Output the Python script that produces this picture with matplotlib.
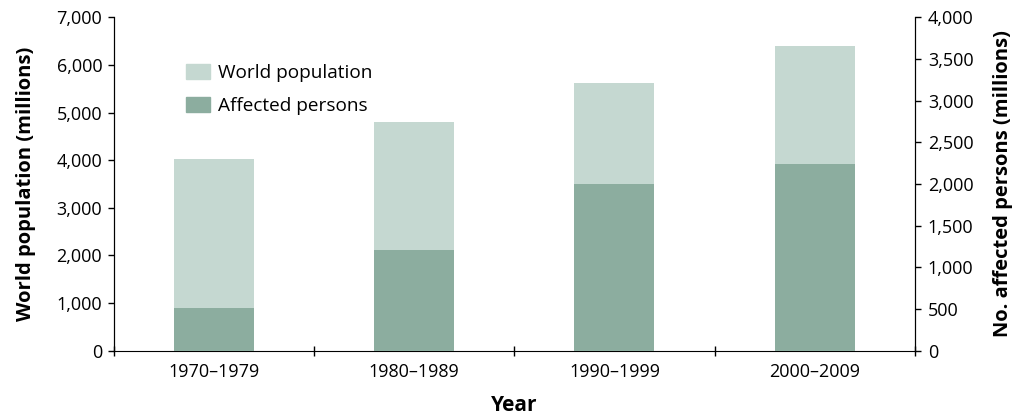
import matplotlib.pyplot as plt
from matplotlib.patches import Patch

plt.rcParams["font.family"] = ["Open Sans", "DejaVu Sans"]

decades = ["1970\u20131979", "1980\u20131989", "1990\u20131999", "2000\u20132009"]
world_pop = [4030, 4800, 5625, 6395]        # millions, left axis
affected = [512, 1212, 2004, 2236]          # millions, right axis

light = "#c5d8d1"
dark = "#8cad9f"

fig = plt.figure(figsize=(10.26, 4.15), dpi=100)
ax = fig.add_axes([0.1111, 0.1549, 0.7804, 0.8034])
ax2 = ax.twinx()

x = list(range(len(decades)))
ax.bar(x, world_pop, width=0.4, color=light, zorder=1)
ax2.bar(x, affected, width=0.4, color=dark, zorder=2)

ax.set_xlim(-0.5, 3.5)
ax.set_ylim(0, 7000)
ax2.set_ylim(0, 4000)
ax.set_yticks(range(0, 7001, 1000))
ax2.set_yticks(range(0, 4001, 500))
ax.set_yticklabels([f"{v:,}" for v in range(0, 7001, 1000)])
ax2.set_yticklabels([f"{v:,}" for v in range(0, 4001, 500)])

# category labels sit between the boundary ticks
ax.set_xticks([-0.5, 0.5, 1.5, 2.5, 3.5])
ax.set_xticklabels([])
ax.set_xticks(x, minor=True)
ax.set_xticklabels(decades, minor=True)
ax.tick_params(axis="x", which="major", direction="inout", length=7, width=1)
ax.tick_params(axis="x", which="minor", length=0, labelsize=13, pad=9)
ax.tick_params(axis="y", direction="out", length=4.5, width=1, labelsize=13, pad=4)
ax2.tick_params(axis="y", direction="out", length=4.5, width=1, labelsize=13, pad=5)

for a in (ax, ax2):
    a.spines["top"].set_visible(False)
ax2.spines["bottom"].set_visible(False)

ax.set_ylabel("World population (millions)", fontsize=14.5, fontweight="bold", labelpad=15)
ax2.set_ylabel("No. affected persons (millions)", fontsize=14.5, fontweight="bold", labelpad=14)
ax.set_xlabel("Year", fontsize=15, fontweight="bold", labelpad=10)

handles = [Patch(color=light, label="World population"),
           Patch(color=dark, label="Affected persons")]
ax2.legend(handles=handles, loc="upper left", bbox_to_anchor=(0.1813, 0.846),
           bbox_transform=fig.transFigure, borderaxespad=0, borderpad=0,
           frameon=False, fontsize=13.7, handlelength=1.26, handleheight=0.84,
           handletextpad=0.42, labelspacing=0.8)

fig.savefig("out.png", dpi=100)
